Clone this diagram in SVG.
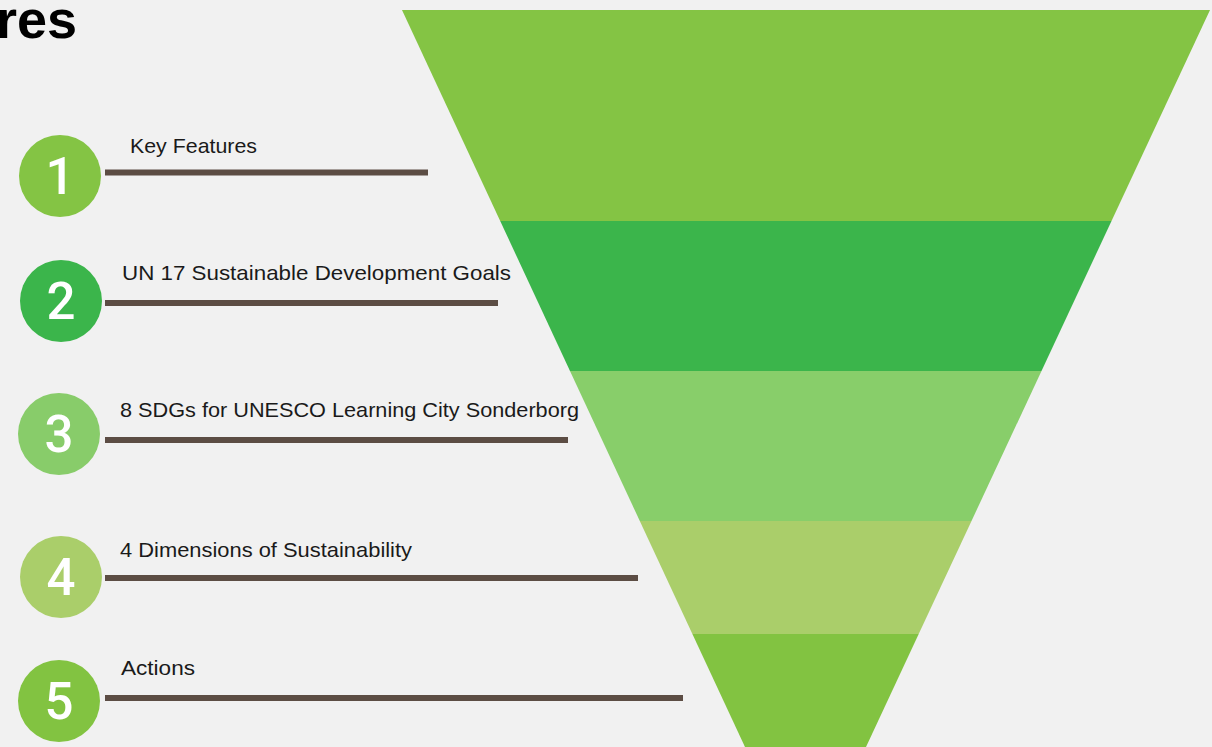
<svg xmlns="http://www.w3.org/2000/svg" width="1212" height="747" viewBox="0 0 1212 747">
<style>
.num{font-family:Roboto,"Liberation Sans",sans-serif;font-weight:500;font-size:51px;fill:#ffffff;text-anchor:middle}
.lbl{font-family:"Liberation Sans",Arial,sans-serif;font-size:21px;fill:#1a1a1a}
.lead{stroke:#5c4d44;stroke-width:6;fill:none}
.title{font-family:"Liberation Sans",Arial,sans-serif;font-weight:bold;font-size:54px;fill:#000000;text-anchor:end}
</style>
<rect x="0" y="0" width="1212" height="747" fill="#f1f1f1"/>
<text class="title" x="77" y="38">res</text>
<g id="funnel">
<polygon points="402,10 1210,10 1111.5,221 500.2,221" fill="#84c444"/>
<polygon points="500.2,221 1111.5,221 1041.5,371 570,371" fill="#3bb54b"/>
<polygon points="570,371 1041.5,371 971.5,521 639.8,521" fill="#88ce6a"/>
<polygon points="639.8,521 971.5,521 918.7,634 692.4,634" fill="#aace6a"/>
<polygon points="692.4,634 918.7,634 866,747 745,747" fill="#82c341"/>
</g>
<g id="connectors">
<line class="lead" x1="105" y1="172.5" x2="428" y2="172.5"/>
<line class="lead" x1="105" y1="303" x2="498" y2="303"/>
<line class="lead" x1="105" y1="440" x2="568" y2="440"/>
<line class="lead" x1="105" y1="578" x2="638" y2="578"/>
<line class="lead" x1="105" y1="698" x2="683" y2="698"/>
</g>
<g id="node1">
<circle cx="60" cy="176" r="41" fill="#84c444"/>
<text class="num" x="60" y="194">1</text>
<text class="lbl" x="130" y="153" textLength="127" lengthAdjust="spacingAndGlyphs">Key Features</text>
</g>
<g id="node2">
<circle cx="61" cy="301" r="41" fill="#3bb54b"/>
<text class="num" x="61" y="319">2</text>
<text class="lbl" x="122" y="280" textLength="389" lengthAdjust="spacingAndGlyphs">UN 17 Sustainable Development Goals</text>
</g>
<g id="node3">
<circle cx="59" cy="434" r="41" fill="#88cc6a"/>
<text class="num" x="59" y="452">3</text>
<text class="lbl" x="120" y="417" textLength="459" lengthAdjust="spacingAndGlyphs">8 SDGs for UNESCO Learning City Sonderborg</text>
</g>
<g id="node4">
<circle cx="61" cy="577" r="41" fill="#aace6a"/>
<text class="num" x="61" y="595">4</text>
<text class="lbl" x="120" y="557" textLength="292" lengthAdjust="spacingAndGlyphs">4 Dimensions of Sustainability</text>
</g>
<g id="node5">
<circle cx="59" cy="701" r="41" fill="#82c341"/>
<text class="num" x="59" y="719">5</text>
<text class="lbl" x="121" y="675" textLength="74" lengthAdjust="spacingAndGlyphs">Actions</text>
</g>
</svg>
